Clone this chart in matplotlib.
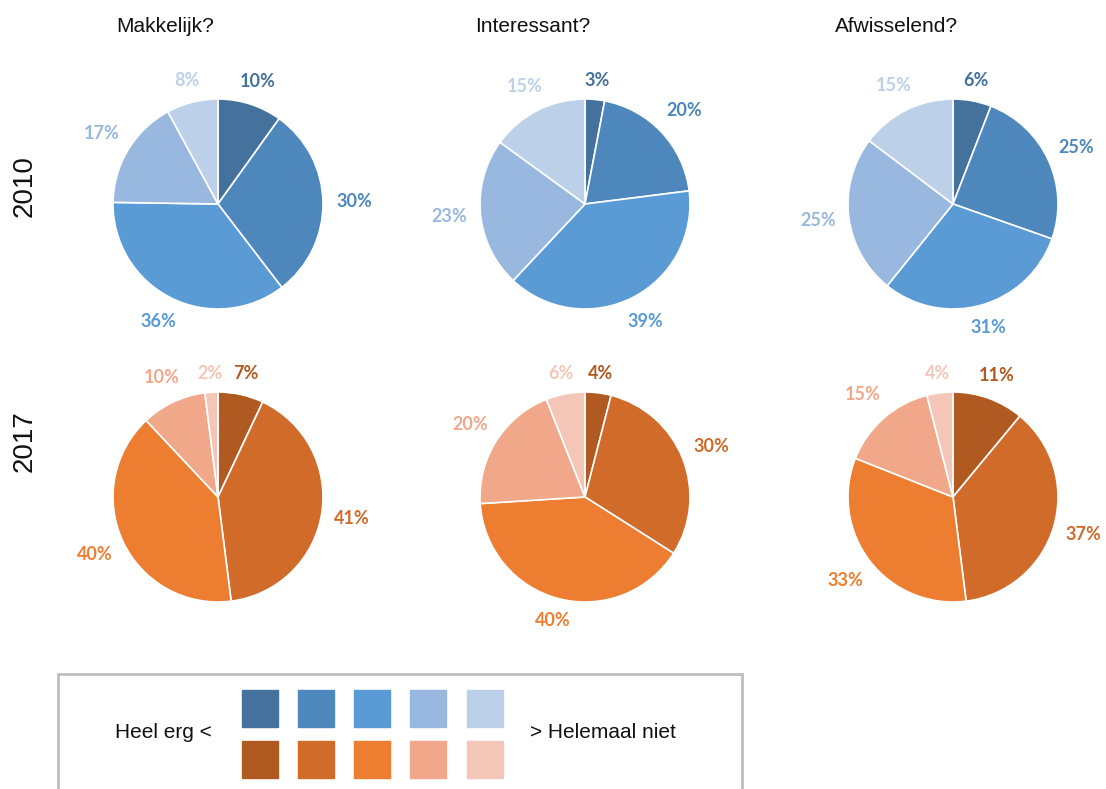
import math
from matplotlib import pyplot as plt
from matplotlib.patches import Rectangle

# column questions and year rows
questions = ['Makkelijk?', 'Interessant?', 'Afwisselend?']
years = ['2010', '2017']

# shares per answer, from "heel erg" to "helemaal niet"
makkelijk_2010 = [10, 30, 36, 17, 8]
interessant_2010 = [3, 20, 39, 23, 15]
afwisselend_2010 = [6, 25, 31, 25, 15]
makkelijk_2017 = [7, 41, 40, 10, 2]
interessant_2017 = [4, 30, 40, 20, 6]
afwisselend_2017 = [11, 37, 33, 15, 4]

blues = ['#44729d', '#4e87bc', '#5b9bd5', '#99b8df', '#bdd0ea']
oranges = ['#b05a22', '#d06b2a', '#ed7d31', '#f1a78a', '#f4c6b8']

legend_left = 'Heel erg <'
legend_right = '> Helemaal niet'

W, H = 1106, 789


def py(y):
    # pixel row (from top) to axes y
    return H - y


def draw_pie(ax, values, colors, cx, cy, r):
    wedges, _ = ax.pie(values, colors=colors, center=(cx, py(cy)), radius=r,
                       startangle=90, counterclock=False,
                       wedgeprops=dict(edgecolor='white', linewidth=1.2))
    for w, v, c in zip(wedges, values, colors):
        mid = math.radians((w.theta1 + w.theta2) / 2)
        # labels sit a bit further out at the sides than at the top
        d = r + 17 + 14 * min(1.0, 1.6 * abs(math.cos(mid)))
        ax.text(cx + d * math.cos(mid), py(cy) + d * math.sin(mid), f'{v}%',
                ha='center', va='center', color=c, fontsize=13,
                fontweight='bold', family=['Lato', 'DejaVu Sans'])


def main():
    fig = plt.figure(figsize=(W / 100, H / 100), dpi=100)
    ax = fig.add_axes([0, 0, 1, 1])

    data = [[makkelijk_2010, interessant_2010, afwisselend_2010],
            [makkelijk_2017, interessant_2017, afwisselend_2017]]
    palettes = [blues, oranges]
    col_x = [218, 585, 953]
    row_y = [204, 497]
    title_x = [116, 475, 835]

    for j, q in enumerate(questions):
        ax.text(title_x[j], py(26), q, ha='left', va='center', fontsize=15,
                family='Liberation Sans', color='#111111')

    for i, yr in enumerate(years):
        ax.text(25, py([186, 441][i]), yr, rotation=90, ha='center', va='center',
                fontsize=20, family='Liberation Sans', color='#111111')
        for j in range(3):
            draw_pie(ax, data[i][j], palettes[i], col_x[j], row_y[i], 105)

    # legend box
    ax.add_patch(Rectangle((58, py(800)), 684, 126, fill=False,
                           edgecolor='#bfbfbf', linewidth=2, clip_on=False))
    sq_x = [242, 298, 354, 410, 467]
    for k in range(5):
        ax.add_patch(Rectangle((sq_x[k], py(727)), 36, 37, color=blues[k]))
        ax.add_patch(Rectangle((sq_x[k], py(778)), 36, 37, color=oranges[k]))
    ax.text(115, py(733), legend_left, ha='left', va='center', fontsize=15,
            family='Liberation Sans', color='#111111')
    ax.text(530, py(733), legend_right, ha='left', va='center', fontsize=15,
            family='Liberation Sans', color='#111111')

    ax.set_aspect('auto')
    ax.set_xlim(0, W)
    ax.set_ylim(0, H)
    ax.axis('off')

    fig.savefig('out.png', dpi=100)


if __name__ == '__main__':
    main()
